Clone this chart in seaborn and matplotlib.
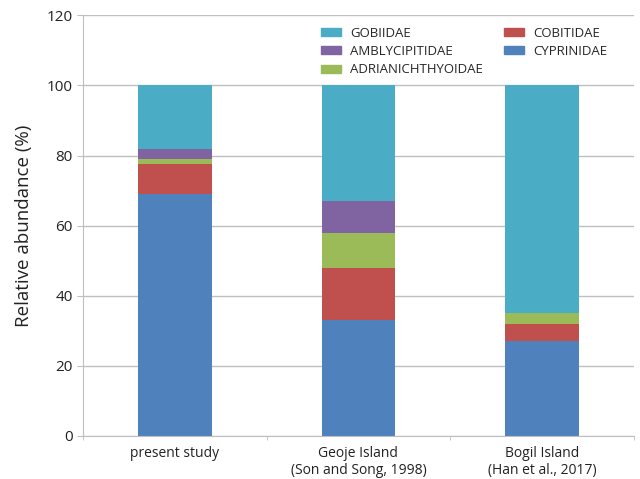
import pandas as pd
import seaborn as sns
import matplotlib.pyplot as plt
from matplotlib.patches import Patch
from matplotlib.ticker import FixedLocator

# data (% relative abundance)
sites = ["present study", "Geoje Island\n(Son and Song, 1998)", "Bogil Island\n(Han et al., 2017)"]
cyprinidae = [69, 33, 27]
cobitidae = [8.7, 15, 5]
adrianichthyoidae = [1.2, 10, 3]
amblycipitidae = [3, 9, 0]
gobiidae = [18.1, 33, 65]

families = ["CYPRINIDAE", "COBITIDAE", "ADRIANICHTHYOIDAE", "AMBLYCIPITIDAE", "GOBIIDAE"]
colors = {"CYPRINIDAE": "#4F81BD", "COBITIDAE": "#C0504D", "ADRIANICHTHYOIDAE": "#9BBB59",
          "AMBLYCIPITIDAE": "#8064A2", "GOBIIDAE": "#4BACC6"}

df = pd.DataFrame({"site": sites, "CYPRINIDAE": cyprinidae, "COBITIDAE": cobitidae,
                   "ADRIANICHTHYOIDAE": adrianichthyoidae, "AMBLYCIPITIDAE": amblycipitidae,
                   "GOBIIDAE": gobiidae})
cum = df[families].cumsum(axis=1)
cum["site"] = df["site"]

sns.set_style("white")
plt.rcParams['font.family'] = ['Open Sans', 'DejaVu Sans']

fig, ax = plt.subplots(figsize=(6.4, 4.79), dpi=100)
fig.subplots_adjust(left=0.13, right=0.99, top=0.968, bottom=0.09)

# stacked bars: draw cumulative totals, tallest first
for fam in families[::-1]:
    sns.barplot(data=cum, x="site", y=fam, color=colors[fam], width=0.4,
                saturation=1, linewidth=0, ax=ax, zorder=2)

ax.set_ylim(0, 120)
ax.set_xlim(-0.5, 2.5)
ax.set_yticks(range(0, 121, 20))
ax.yaxis.grid(True, color="#BFBFBF", linewidth=1, zorder=0)
ax.set_axisbelow(True)
ax.set_xlabel("")
ax.set_ylabel("Relative abundance (%)", fontsize=13.5, color="#222222", labelpad=10)
ax.tick_params(axis="y", labelsize=11, colors="#222222", length=4, color="#BFBFBF", direction="out", left=True)
ax.tick_params(axis="x", labelsize=10, colors="#222222", length=0, pad=7)
ax.xaxis.set_minor_locator(FixedLocator([-0.5, 0.5, 1.5, 2.5]))
ax.tick_params(axis="x", which="minor", length=3, color="#BFBFBF", bottom=True, direction="out")

for s in ["top", "right"]:
    ax.spines[s].set_visible(False)
for s in ["left", "bottom"]:
    ax.spines[s].set_color("#BFBFBF")

labels = ["GOBIIDAE", "AMBLYCIPITIDAE", "ADRIANICHTHYOIDAE", "COBITIDAE", "CYPRINIDAE"]
handles = [Patch(color=colors[f]) for f in labels]
ax.legend(handles, labels, ncol=2, loc="upper left", bbox_to_anchor=(0.415, 0.995),
          frameon=False, fontsize=9.5, handlelength=1.5, handleheight=0.55,
          labelspacing=0.4, columnspacing=1.6, borderpad=0.2, handletextpad=0.7)

plt.savefig("out.png")
